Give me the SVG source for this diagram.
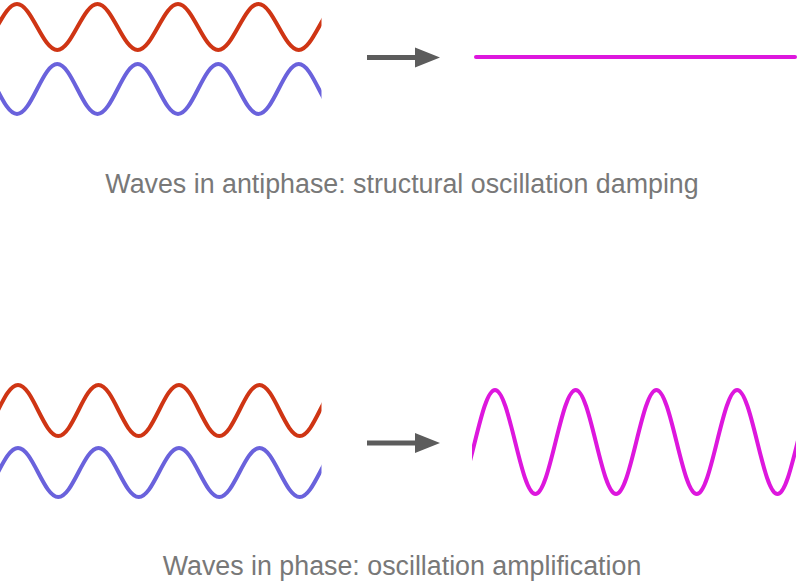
<svg xmlns="http://www.w3.org/2000/svg" width="800" height="582" viewBox="0 0 800 582">
  <style>
    .wave { fill: none; stroke-width: 4; stroke-linecap: round; stroke-linejoin: round; }
    .red { stroke: #cf3514; }
    .blue { stroke: #6a62dc; }
    .mag { stroke: #dd17dd; }
    .arrow { stroke: #5c5c5c; stroke-width: 5; fill: none; }
    .caption { font-family: "Liberation Sans", Arial, sans-serif; font-size: 26.8px; fill: #787878; text-anchor: middle; }
  </style>
  <defs>
    <clipPath id="clipLeft"><rect x="0" y="0" width="321.5" height="582"/></clipPath>
    <clipPath id="clipRight"><rect x="472" y="0" width="324" height="582"/></clipPath>
    <marker id="head" markerUnits="userSpaceOnUse" markerWidth="26" markerHeight="22" refX="0" refY="10" orient="auto" overflow="visible">
      <path d="M0,0 L25,10 L0,20 Z" fill="#5c5c5c"/>
    </marker>
  </defs>
  <rect width="800" height="582" fill="#ffffff"/>

  <g id="top-red-wave" clip-path="url(#clipLeft)">
    <path class="wave red" d="M -23.25,50 C -8.62,50 2.37,4 17,4 S 42.62,50 57.25,50 S 82.87,4 97.5,4 S 123.12,50 137.75,50 S 163.37,4 178,4 S 203.62,50 218.25,50 S 243.87,4 258.5,4 S 284.12,50 298.75,50 S 324.37,4 339,4"/>
  </g>
  <g id="top-blue-wave" clip-path="url(#clipLeft)">
    <path class="wave blue" d="M -23.25,64 C -8.62,64 2.37,114 17,114 S 42.62,64 57.25,64 S 82.87,114 97.5,114 S 123.12,64 137.75,64 S 163.37,114 178,114 S 203.62,64 218.25,64 S 243.87,114 258.5,114 S 284.12,64 298.75,64 S 324.37,114 339,114"/>
  </g>
  <g id="top-result-line">
    <line class="wave mag" x1="476" y1="57" x2="795" y2="57"/>
  </g>
  <g id="top-caption">
    <text class="caption" x="402" y="193">Waves in antiphase: structural oscillation damping</text>
  </g>

  <g id="bottom-red-wave" clip-path="url(#clipLeft)">
    <path class="wave red" d="M -22.25,436 C -7.62,436 3.37,385 18,385 S 43.62,436 58.25,436 S 83.87,385 98.5,385 S 124.12,436 138.75,436 S 164.37,385 179,385 S 204.62,436 219.25,436 S 244.87,385 259.5,385 S 285.12,436 299.75,436 S 325.37,385 340,385"/>
  </g>
  <g id="bottom-blue-wave" clip-path="url(#clipLeft)">
    <path class="wave blue" d="M -22.25,497 C -7.62,497 3.37,448 18,448 S 43.62,497 58.25,497 S 83.87,448 98.5,448 S 124.12,497 138.75,497 S 164.37,448 179,448 S 204.62,497 219.25,497 S 244.87,448 259.5,448 S 285.12,497 299.75,497 S 325.37,448 340,448"/>
  </g>
  <g id="bottom-result-wave" clip-path="url(#clipRight)">
    <path class="wave mag" d="M 454.65,494 C 469.31,494 480.34,390 495,390 S 520.69,494 535.35,494 S 561.04,390 575.7,390 S 601.39,494 616.05,494 S 641.74,390 656.4,390 S 682.09,494 696.75,494 S 722.44,390 737.1,390 S 762.79,494 777.45,494 S 803.14,390 817.8,390"/>
  </g>
  <g id="bottom-caption">
    <text class="caption" x="402" y="575">Waves in phase: oscillation amplification</text>
  </g>

  <g id="connectors">
    <line class="arrow" x1="367" y1="57.5" x2="415" y2="57.5" marker-end="url(#head)"/>
    <line class="arrow" x1="367" y1="443" x2="415" y2="443" marker-end="url(#head)"/>
  </g>
</svg>
